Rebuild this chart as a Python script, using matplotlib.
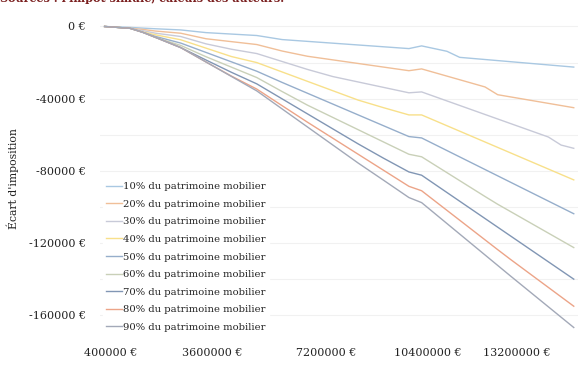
import matplotlib
matplotlib.use("Agg")
import matplotlib.pyplot as plt
from matplotlib.ticker import FuncFormatter

# patrimoine total (EUR)
patrimoine = [200000, 1000000, 1400000, 1800000, 2600000, 3400000, 4200000, 5000000,
              5800000, 6600000, 7400000, 8200000, 9000000, 9800000, 10200000, 10600000,
              11000000, 11400000, 11800000, 12200000, 12600000, 13000000, 13400000,
              13800000, 14200000, 14600000, 15000000]

# ecart d'imposition par part de patrimoine mobilier
p10 = [0, -500, -900, -1260, -1910, -3400, -4200, -5000, -7250, -8250, -9250, -10250, -11250,
       -12250, -10750, -12250, -13750, -17100, -17700, -18300, -18900, -19500, -20100,
       -20700, -21300, -21900, -22500]
p20 = [0, -1000, -1600, -2520, -3730, -6800, -8400, -10000, -13600, -16500, -18500, -20500,
       -22500, -24500, -23500, -25500, -27500, -29500, -31500, -33500, -37800, -39000,
       -40200, -41400, -42600, -43800, -45000]
p30 = [0, -1000, -2300, -3700, -5550, -9630, -12600, -15000, -19400, -23800, -27750, -30750,
       -33750, -36750, -36250, -38750, -41250, -43750, -46250, -48750, -51250, -53750,
       -56250, -58750, -61250, -65700, -67500]
p40 = [0, -1000, -3000, -4600, -7370, -12010, -16650, -20000, -25200, -30400, -35600, -40800,
       -45000, -49000, -49000, -52000, -55000, -58000, -61000, -64000, -67000, -70000,
       -73000, -76000, -79000, -82000, -85000]
p50 = [0, -1000, -3200, -5500, -9190, -14390, -19590, -24790, -31000, -37000, -43000, -49000,
       -55000, -61000, -61750, -65250, -68750, -72250, -75750, -79250, -82750, -86250,
       -89750, -93250, -96750, -100250, -103750]
p60 = [0, -1000, -3200, -6000, -10490, -16770, -22530, -28290, -36050, -43600, -50400, -57200,
       -64000, -70800, -72200, -76600, -81000, -85400, -89800, -94200, -98500, -102500,
       -106500, -110500, -114500, -118500, -122500]
p70 = [0, -1000, -3200, -6000, -11690, -18590, -25390, -31790, -40110, -48430, -56750, -65070,
       -73000, -80600, -82400, -87200, -92000, -96800, -101600, -106400, -111200, -116000,
       -120800, -125600, -130400, -135200, -140000]
p80 = [0, -1000, -3200, -6000, -11690, -19690, -27490, -34690, -43890, -53050, -61930, -70810,
       -79690, -88570, -91010, -96450, -101890, -107330, -112770, -118210, -123650,
       -129000, -134200, -139400, -144600, -149800, -155000]
p90 = [0, -1000, -3200, -6000, -11690, -19690, -27690, -35690, -45690, -55690, -65690, -75690,
       -85190, -94790, -97590, -103390, -109190, -114990, -120790, -126590, -132390,
       -138190, -143910, -149630, -155350, -161070, -166790]

series = [p10, p20, p30, p40, p50, p60, p70, p80, p90]
labels = ["%d%% du patrimoine mobilier" % (10 * (i + 1)) for i in range(9)]
colors = ["#a9c8e2", "#f0bf98", "#c8cad8", "#f8e08a", "#96aecb",
          "#c9d0b8", "#8196b4", "#eca488", "#a3a9b8"]

xticks = [400000, 3600000, 7200000, 10400000, 13200000]
yticks = [0, -40000, -80000, -120000, -160000]

plt.rcParams["font.family"] = ["DejaVu Serif"]

fig = plt.figure(figsize=(5.86, 3.75), dpi=100)
ax = fig.add_axes([0.1706, 0.0987, 0.815, 0.848])

for y in range(0, -180000, -20000):
    ax.axhline(y, color="#f1f1f1", lw=0.8, zorder=0)

for s, lab, c in zip(series, labels, colors):
    ax.plot(patrimoine, s, color=c, lw=1.0, label=lab)

ax.set_xlim(53000, 15120000)
ax.set_ylim(-172600, 3600)
ax.set_xticks(xticks)
ax.set_yticks(yticks)
ax.xaxis.set_major_formatter(FuncFormatter(lambda v, p: "%d €" % v))
ax.yaxis.set_major_formatter(FuncFormatter(lambda v, p: "%d €" % v))
ax.tick_params(length=0, labelsize=8, colors="#222222")
ax.tick_params(axis="x", pad=7)
ax.tick_params(axis="y", pad=10)
for sp in ax.spines.values():
    sp.set_visible(False)

ax.set_ylabel("Écart d'imposition", fontsize=7.8, color="#222222", labelpad=7)

leg = ax.legend(loc="lower left", bbox_to_anchor=(0.0, 0.0), fontsize=7.2,
                frameon=True, facecolor="white", edgecolor="white", framealpha=1,
                handlelength=1.6, handletextpad=0.1, labelspacing=0.86,
                borderpad=0.3, borderaxespad=0.3)
for t in leg.get_texts():
    t.set_color("#222222")

fig.text(0.0, 1.004, "Sources : l'impôt simulé, calculs des auteurs.", fontsize=8,
         color="#7a1f1f", fontweight="bold", va="center", ha="left")

fig.savefig("out.png", dpi=100, facecolor="white")
